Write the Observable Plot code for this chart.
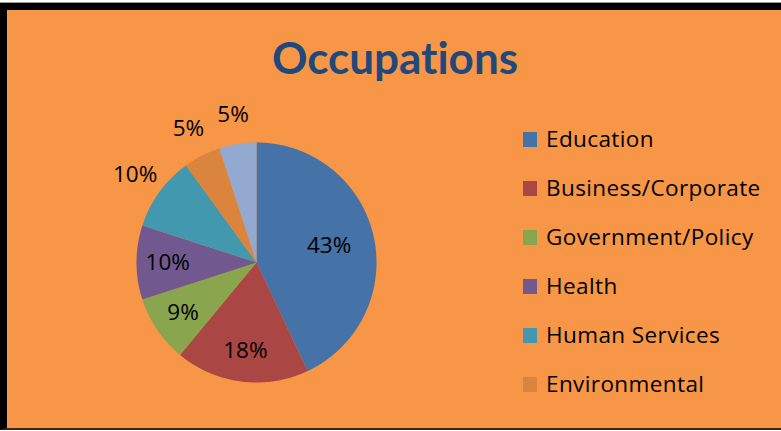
<!DOCTYPE html>
<html>
<head>
<meta charset="utf-8">
<script src="https://cdn.jsdelivr.net/npm/d3@7"></script>
<script src="https://cdn.jsdelivr.net/npm/@observablehq/plot@0.6"></script>
<style>
  html, body { margin: 0; padding: 0; background: #ffffff; }
  #wrap { position: relative; width: 781px; height: 431px; overflow: hidden; }
  #bg { position: absolute; left: 0; top: 3px; width: 774px; height: 418px;
        background: #F79646; border-top: 7px solid #000; border-left: 7px solid #000;
        border-bottom: 2px solid #3b2a1c; }
  #topline { position: absolute; left: 0; top: 2px; width: 781px; height: 1px; background: #9a9a9a; }
  #chart { position: absolute; left: 0; top: 0; }
  #title { position: absolute; left: 395px; top: 35px; transform: translateX(-50%);
           font-family: Lato, sans-serif; font-weight: bold; font-size: 44px; line-height: 44px;
           font-variant-ligatures: none; font-feature-settings: "liga" 0;
           color: #1F497D; white-space: nowrap; }
  .lg-item { position: absolute; left: 523px; height: 22px; white-space: nowrap; }
  .lg-sw { position: absolute; left: 0; top: 4px; width: 14px; height: 15px; }
  .lg-tx { position: absolute; left: 23px; top: -1px; font-family: "Open Sans", sans-serif;
           font-size: 22.5px; line-height: 24px; letter-spacing: 0.4px; color: #000; }
</style>
</head>
<body>
<div id="wrap">
  <div id="topline"></div>
  <div id="bg"></div>
  <div id="chart"></div>
  <div id="title"></div>
  <div id="legend"></div>
</div>
<script>
// ---- data ----
const title = "Occupations";
const categories = ["Education", "Business/Corporate", "Government/Policy", "Health", "Human Services", "Environmental", "Other"];
const values = [43, 18, 9, 10, 10, 5, 5];
const labels = ["43%", "18%", "9%", "10%", "10%", "5%", "5%"];
const labelPlacement = ["inside", "inside", "inside", "inside", "outside", "outside", "outside"];
const legendCategories = ["Education", "Business/Corporate", "Government/Policy", "Health", "Human Services", "Environmental"];
const colors = ["#4572A7", "#AA4643", "#89A54E", "#71588F", "#4198AF", "#DB843D", "#93A9CF"];

// ---- layout ----
const W = 781, H = 431, cx = 256, cy = 262, R = 120;

const arcs = d3.pie().sort(null).value(d => d)(values);

const slicePoints = [];
arcs.forEach((a, i) => {
  slicePoints.push({cat: categories[i], x: 0, y: 0});
  const n = Math.max(2, Math.ceil((a.endAngle - a.startAngle) / (Math.PI / 360)));
  for (let k = 0; k <= n; k++) {
    const t = a.startAngle + (a.endAngle - a.startAngle) * k / n;
    slicePoints.push({cat: categories[i], x: Math.sin(t), y: Math.cos(t)});
  }
});

const total = d3.sum(values);
const labelData = arcs.map((a, i) => {
  const mid = (a.startAngle + a.endAngle) / 2;
  const share = values[i] / total;
  const r = labelPlacement[i] === "outside" ? 1.25 : share > 0.3 ? 0.62 : 0.74;
  return {x: r * Math.sin(mid), y: r * Math.cos(mid), text: labels[i]};
});

const chart = Plot.plot({
  width: W,
  height: H,
  margin: 0,
  style: {background: "transparent", overflow: "visible"},
  x: {domain: [-cx / R, (W - cx) / R], range: [0, W], axis: null},
  y: {domain: [-(H - cy) / R, cy / R], range: [H, 0], axis: null},
  color: {domain: categories, range: colors},
  marks: [
    Plot.line(slicePoints, {x: "x", y: "y", z: "cat", fill: "cat", stroke: "none", curve: "linear-closed"}),
    Plot.text(labelData, {x: "x", y: "y", text: "text", fill: "#000", fontSize: 22.5,
      fontFamily: "'Open Sans', sans-serif", textAnchor: "middle"})
  ]
});
document.getElementById("chart").appendChild(chart);

document.getElementById("title").textContent = title;

const legend = document.getElementById("legend");
const legendTop = 128, legendStep = 48.9;
legendCategories.forEach((c, i) => {
  const item = document.createElement("div");
  item.className = "lg-item";
  item.style.top = (legendTop + i * legendStep) + "px";
  const sw = document.createElement("div");
  sw.className = "lg-sw";
  sw.style.background = colors[categories.indexOf(c)];
  const tx = document.createElement("div");
  tx.className = "lg-tx";
  tx.textContent = c;
  item.appendChild(sw);
  item.appendChild(tx);
  legend.appendChild(item);
});
</script>
</body>
</html>
